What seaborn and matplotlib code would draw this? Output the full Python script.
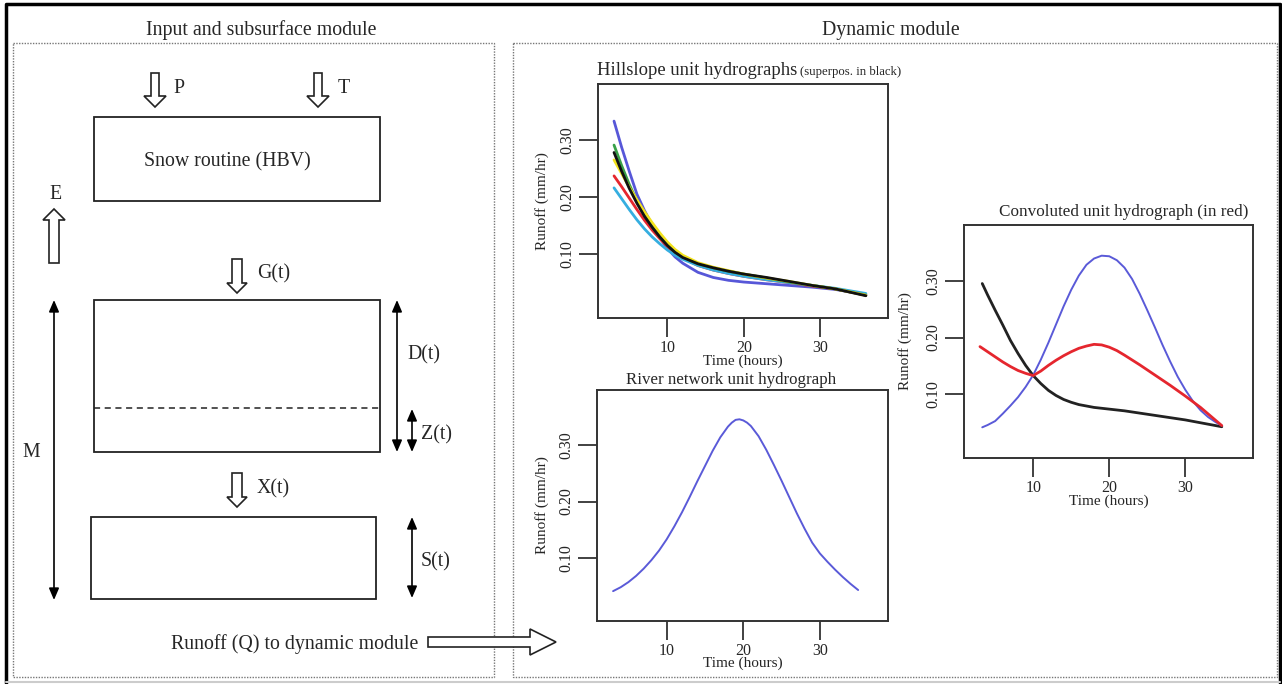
import matplotlib
matplotlib.use("Agg")
import matplotlib.pyplot as plt
import numpy as np
import pandas as pd
import seaborn as sns
from matplotlib.patches import Polygon, Rectangle

# ---- data ----
hill_time = [3, 4, 5, 6, 7, 8, 9, 10, 11, 12, 14, 16, 18, 20, 23, 26, 29, 32, 36]
hill_blue = [0.333, 0.287, 0.245, 0.205, 0.176, 0.151, 0.129, 0.110, 0.095, 0.084,
             0.068, 0.059, 0.054, 0.051, 0.048, 0.045, 0.042, 0.038, 0.029]
hill_red = [0.237, 0.218, 0.198, 0.178, 0.159, 0.142, 0.127, 0.113, 0.102, 0.093,
            0.080, 0.072, 0.066, 0.061, 0.055, 0.050, 0.044, 0.039, 0.028]
hill_cyan = [0.216, 0.197, 0.178, 0.160, 0.144, 0.130, 0.118, 0.107, 0.098, 0.091,
             0.080, 0.072, 0.066, 0.061, 0.055, 0.050, 0.045, 0.040, 0.031]
hill_green = [0.291, 0.255, 0.222, 0.193, 0.168, 0.148, 0.130, 0.116, 0.104, 0.095,
              0.083, 0.076, 0.070, 0.065, 0.058, 0.051, 0.045, 0.039, 0.028]
hill_yellow = [0.265, 0.241, 0.217, 0.195, 0.174, 0.155, 0.137, 0.121, 0.108, 0.098,
               0.085, 0.077, 0.071, 0.065, 0.058, 0.052, 0.045, 0.039, 0.028]
hill_black = [0.278, 0.245, 0.215, 0.189, 0.166, 0.147, 0.130, 0.115, 0.103, 0.094,
              0.083, 0.076, 0.070, 0.065, 0.059, 0.052, 0.045, 0.039, 0.027]

river_time = [3, 4, 5, 6, 7, 8, 9, 10, 11, 12, 13, 14, 15, 16, 17, 18, 18.5, 19, 19.5,
              20, 20.5, 21, 22, 23, 24, 25, 26, 27, 28, 29, 30, 31, 32, 33, 34, 35]
river_q = [0.041, 0.048, 0.057, 0.068, 0.081, 0.096, 0.113, 0.133, 0.156, 0.181,
           0.208, 0.236, 0.263, 0.290, 0.314, 0.333, 0.340, 0.345, 0.346, 0.344,
           0.340, 0.334, 0.316, 0.292, 0.265, 0.237, 0.208, 0.179, 0.152, 0.127,
           0.108, 0.093, 0.079, 0.066, 0.054, 0.043]

conv_black_t = [3.3, 4, 5, 6, 7, 8, 9, 10, 11, 12, 13, 14, 15, 16, 18, 20, 22, 24,
                26, 28, 30, 32, 34.8]
conv_black = [0.295, 0.275, 0.248, 0.222, 0.195, 0.172, 0.151, 0.133, 0.119, 0.107,
              0.098, 0.091, 0.086, 0.082, 0.077, 0.074, 0.071, 0.067, 0.063, 0.059,
              0.055, 0.050, 0.043]
conv_blue_t = [3.3, 4, 5, 6, 7, 8, 9, 10, 11, 12, 13, 14, 15, 16, 17, 18, 19, 20,
               21, 22, 23, 24, 25, 26, 27, 28, 29, 30, 31, 32, 33, 34, 34.8]
conv_blue = [0.042, 0.046, 0.053, 0.066, 0.080, 0.095, 0.113, 0.134, 0.161, 0.191,
             0.223, 0.255, 0.284, 0.309, 0.328, 0.339, 0.344, 0.343, 0.336, 0.323,
             0.303, 0.277, 0.248, 0.218, 0.187, 0.158, 0.131, 0.108, 0.088, 0.072,
             0.060, 0.051, 0.045]
conv_red_t = [3, 4, 5, 6, 7, 8, 9, 10, 11, 12, 13, 14, 15, 16, 17, 18, 19, 20,
              21, 22, 24, 26, 28, 30, 32, 34.8]
conv_red = [0.184, 0.175, 0.166, 0.157, 0.149, 0.142, 0.137, 0.133, 0.141, 0.151,
            0.160, 0.168, 0.175, 0.181, 0.185, 0.188, 0.187, 0.183, 0.177, 0.169,
            0.152, 0.134, 0.116, 0.097, 0.077, 0.045]

x_ticks = [10, 20, 30]
y_ticks = [0.10, 0.20, 0.30]
y_ticklabels = ["0.10", "0.20", "0.30"]

W, H = 1282, 684
DIAG_FS = 14.3
DY = 2.5  # text baseline nudge in pixels

sns.set_theme(style="white")
plt.rcParams["font.family"] = ["Liberation Serif", "DejaVu Serif"]

fig = plt.figure(figsize=(W / 100, H / 100), dpi=100)
ax0 = fig.add_axes([0, 0, 1, 1])
ax0.set_xlim(0, W)
ax0.set_ylim(H, 0)
ax0.axis("off")


def label(x, y, s, ha="left", fs=DIAG_FS):
    ax0.text(x, y + DY, s, ha=ha, va="center", fontsize=fs)


def hollow_arrow(x0, y0, x1, y1, sw=5, hw=11, hl=10, lw=1.2):
    p0 = np.array([x0, y0], float)
    p1 = np.array([x1, y1], float)
    L = np.linalg.norm(p1 - p0)
    u = (p1 - p0) / L
    n = np.array([-u[1], u[0]])
    b = p0 + (L - hl) * u
    pts = [p0 + sw * n, b + sw * n, b + hw * n, p1, b - hw * n, b - sw * n, p0 - sw * n]
    ax0.add_patch(Polygon(pts, closed=True, fc="white", ec="#222222", lw=lw, zorder=3))


def double_arrow(x, y0, y1):
    ax0.annotate("", xy=(x, y0), xytext=(x, y1),
                 arrowprops=dict(arrowstyle="<|-|>,head_length=0.7,head_width=0.3",
                                 color="black", lw=1.2, shrinkA=0, shrinkB=0,
                                 mutation_scale=10))


def box(x0, y0, x1, y1, **kw):
    ax0.add_patch(Rectangle((x0, y0), x1 - x0, y1 - y0, fill=False, **kw))


# frames
ax0.plot([6, 6, 1280, 1280], [683, 3.5, 3.5, 683], color="black", lw=2.5)
ax0.plot([6, 1280], [682, 682], color="#cccccc", lw=1.5)
box(13, 43, 494, 677, ec="#777777", lw=1.0, ls=(0, (1, 1)))
box(513, 43, 1277, 677, ec="#777777", lw=1.0, ls=(0, (1, 1)))

label(261, 28, "Input and subsurface module", ha="center")
label(891, 28, "Dynamic module", ha="center")

# subsurface diagram
box(94, 117, 380, 201, ec="#222222", lw=1.3)
box(94, 300, 380, 452, ec="#222222", lw=1.3)
box(91, 517, 376, 599, ec="#222222", lw=1.3)
ax0.plot([94, 380], [408, 408], color="#222222", lw=1.1, ls=(0, (4, 3)))
label(227, 159, "Snow routine (HBV)", ha="center")

hollow_arrow(155, 73, 155, 107, sw=4, hw=11, hl=11)
hollow_arrow(318, 73, 318, 107, sw=4, hw=11, hl=11)
hollow_arrow(54, 263, 54, 209, sw=5, hw=11, hl=11)
hollow_arrow(237, 259, 237, 293, sw=5, hw=10, hl=10)
hollow_arrow(237, 473, 237, 507, sw=5, hw=10, hl=10)
hollow_arrow(428, 642, 556, 642, sw=5, hw=13, hl=26)

label(173, 86, "P")
label(338, 86, "T")
label(55, 192, "E", ha="center")
label(257, 271, "G(t)")
label(257, 486, "X(t)")
label(407, 352, "D(t)")
label(421, 432, "Z(t)")
label(421, 559, "S(t)")
label(31, 450, "M", ha="center")
label(418, 642, "Runoff (Q) to dynamic module", ha="right")

double_arrow(54, 300, 600)
double_arrow(397, 300, 452)
double_arrow(412, 409, 452)
double_arrow(412, 517, 598)


def make_axes(x0, y0, x1, y1):
    ax = fig.add_axes([x0 / W, 1 - y1 / H, (x1 - x0) / W, (y1 - y0) / H])
    ax.set_facecolor("white")
    return ax


def style_axes(ax, ylab_x):
    ax.set_xlim(0.9, 38.9)
    ax.set_ylim(-0.012, 0.398)
    ax.set_xticks(x_ticks)
    ax.set_yticks(y_ticks)
    ax.set_yticklabels(y_ticklabels, rotation=90, va="center")
    ax.tick_params(direction="out", length=14, width=1.3, color="#333333",
                   labelsize=11.5, pad=2, bottom=True, left=True)
    for s in ax.spines.values():
        s.set_color("#333333")
        s.set_linewidth(1.4)
    ax.set_xlabel("Time (hours)", fontsize=11)
    ax.set_ylabel("Runoff (mm/hr)", fontsize=11)
    ax.xaxis.label.set_va("center")
    ax.yaxis.label.set_va("center")
    ax.xaxis.set_label_coords(0.5, -0.185)
    ax.yaxis.set_label_coords(ylab_x, 0.5)


# hillslope unit hydrographs
ax1 = make_axes(598, 84, 888, 318)
hill = pd.DataFrame({
    "time": hill_time * 6,
    "runoff": hill_blue + hill_red + hill_cyan + hill_green + hill_yellow + hill_black,
    "curve": np.repeat(["blue", "red", "cyan", "green", "yellow", "black"], len(hill_time)),
})
hill_palette = {"blue": "#5757d8", "red": "#e5262e", "cyan": "#35aee0",
                "green": "#38a048", "yellow": "#f2e21c", "black": "#111111"}
sns.lineplot(data=hill, x="time", y="runoff", hue="curve", palette=hill_palette,
             linewidth=2.0, legend=False, ax=ax1)
style_axes(ax1, -0.193)
label(597, 68, "Hillslope unit hydrographs", fs=13.4)
label(800, 69, "(superpos. in black)", fs=9.2)

# river network unit hydrograph
ax2 = make_axes(597, 390, 888, 621)
sns.lineplot(x=river_time, y=river_q, color="#5a5ad8", linewidth=1.4, ax=ax2)
style_axes(ax2, -0.19)
label(731, 378, "River network unit hydrograph", ha="center", fs=12.2)

# convoluted unit hydrograph
ax3 = make_axes(964, 225, 1253, 458)
sns.lineplot(x=conv_black_t, y=conv_black, color="#222222", linewidth=2.0, ax=ax3)
sns.lineplot(x=conv_blue_t, y=conv_blue, color="#5a5ad8", linewidth=1.4, ax=ax3)
sns.lineplot(x=conv_red_t, y=conv_red, color="#e5262e", linewidth=2.0, ax=ax3)
style_axes(ax3, -0.204)
label(1124, 210, "Convoluted unit hydrograph (in red)", ha="center", fs=12.3)

fig.savefig("out.png", dpi=100, facecolor="white")
